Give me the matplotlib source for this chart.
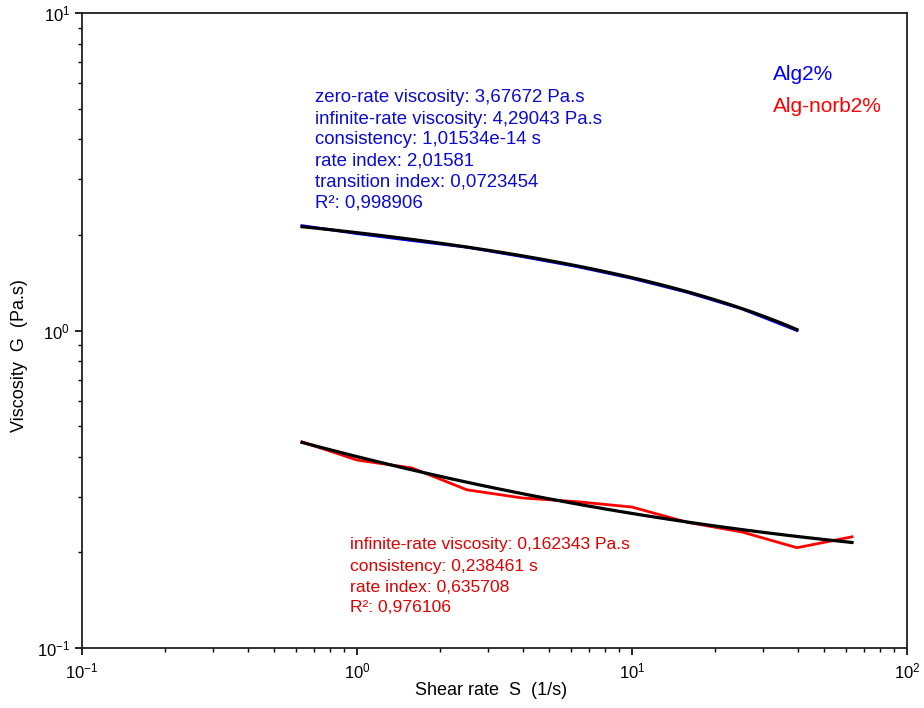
import numpy as np
import matplotlib
matplotlib.use("Agg")
import matplotlib.pyplot as plt

plt.rcParams['font.family'] = ['Liberation Sans', 'DejaVu Sans']

# measured flow curves
shear_rate = [0.631, 1.0, 1.585, 2.512, 3.981, 6.310, 10.0, 15.85, 25.12, 39.81, 63.10]
alg2_visc = [2.14, 2.02, 1.92, 1.83, 1.71, 1.59, 1.46, 1.32, 1.17, 1.00]
norb2_visc = [0.446, 0.391, 0.369, 0.315, 0.297, 0.289, 0.278, 0.249, 0.232, 0.207, 0.224]

# Carreau-Yasuda fit (Alg2%)
cy_eta0 = 3.67672
cy_etainf = 4.29043
cy_k = 1.01534e-14
cy_n = 2.01581
cy_a = 0.0723454
cy_r2 = 0.998906

# Sisko fit (Alg-norb2%)
sk_etainf = 0.162343
sk_k = 0.238461
sk_n = 0.635708
sk_r2 = 0.976106


def carreau_yasuda(g):
    g = np.asarray(g)
    return cy_etainf + (cy_eta0 - cy_etainf) * (1 + (cy_k * g) ** cy_a) ** ((cy_n - 1) / cy_a)


def sisko(g):
    g = np.asarray(g)
    return sk_etainf + sk_k * g ** (sk_n - 1)


def fmt(v):
    return str(v).replace('.', ',')


fig = plt.figure(figsize=(9.24, 7.08), dpi=100)
ax = fig.add_axes([0.0887, 0.0847, 0.8929, 0.8969])

x_alg = shear_rate[:len(alg2_visc)]
ax.plot(x_alg, alg2_visc, color='#0000ff', lw=2)
ax.plot(shear_rate, norb2_visc, color='#ff0000', lw=2)

g_alg = np.geomspace(x_alg[0], x_alg[-1], 60)
g_norb = np.geomspace(shear_rate[0], shear_rate[-1], 60)
ax.plot(g_alg, carreau_yasuda(g_alg), color='black', lw=2.3)
ax.plot(g_norb, sisko(g_norb), color='black', lw=2.3)

ax.set_xscale('log')
ax.set_yscale('log')
ax.set_xlim(0.1, 100)
ax.set_ylim(0.1, 10)

for s in ax.spines.values():
    s.set_linewidth(1.3)
    s.set_color('#202020')
ax.tick_params(which='major', length=5, width=1.2, labelsize=12, direction='out')
ax.tick_params(which='minor', length=3, width=1.0, direction='out')
ax.tick_params(axis='x', pad=5)

ax.set_xlabel('Shear rate  S  (1/s)', fontsize=13)
ax.set_ylabel('Viscosity  G  (Pa.s)', fontsize=13)
ax.xaxis.set_label_coords(0.496, -0.054)
ax.yaxis.set_label_coords(-0.066, 0.461)

blue_txt = '#0a0ad0'
red_txt = '#e00000'
alg_lines = [
    'zero-rate viscosity: %s Pa.s' % fmt(cy_eta0),
    'infinite-rate viscosity: %s Pa.s' % fmt(cy_etainf),
    'consistency: 1,01534e-14 s',
    'rate index: %s' % fmt(cy_n),
    'transition index: %s' % fmt(cy_a),
    'R\u00b2: %s' % fmt(cy_r2),
]
norb_lines = [
    'infinite-rate viscosity: %s Pa.s' % fmt(sk_etainf),
    'consistency: %s s' % fmt(sk_k),
    'rate index: %s' % fmt(sk_n),
    'R\u00b2: %s' % fmt(sk_r2),
]
for i, t in enumerate(alg_lines):
    fig.text(315 / 924, 1 - (98 + i * 21) / 708, t, color=blue_txt,
             fontsize=13.4, va='center', ha='left')
for i, t in enumerate(norb_lines):
    fig.text(350 / 924, 1 - (545 + i * 21) / 708, t, color=red_txt,
             fontsize=12.6, va='center', ha='left')

fig.text(773 / 924, 1 - 75 / 708, 'Alg2%', color='#0000ff', fontsize=15, va='center')
fig.text(773 / 924, 1 - 106 / 708, 'Alg-norb2%', color='#ff0000', fontsize=15, va='center')

fig.savefig('out.png', dpi=100)
